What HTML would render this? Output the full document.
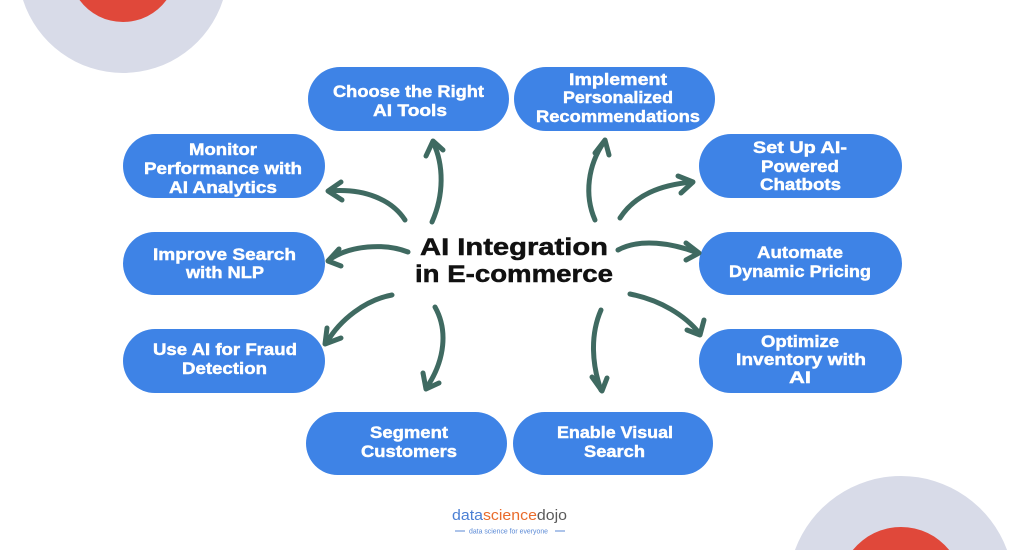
<!DOCTYPE html>
<html><head><meta charset="utf-8"><style>
html,body{margin:0;padding:0;background:#fff;width:1024px;height:550px;overflow:hidden;}
svg{display:block;position:absolute;left:0;top:0;}
.bt{font-family:"Liberation Sans",Arial,sans-serif;font-weight:bold;font-size:16.5px;fill:#fff;stroke:#fff;stroke-width:0.45;text-anchor:middle;}
.tt{font-family:"Liberation Sans",Arial,sans-serif;font-weight:bold;font-size:24.5px;fill:#111;stroke:#111;stroke-width:0.5;text-anchor:middle;}
.ar{fill:none;stroke:#3f6a61;stroke-width:5;stroke-linecap:round;stroke-linejoin:round;}
</style></head><body>
<svg width="1024" height="550" viewBox="0 0 1024 550" xmlns="http://www.w3.org/2000/svg">
<rect width="1024" height="550" fill="#fff"/>
<path d="M23,0 A105,105 0 0 0 223,0 Z" fill="#d8dbe8"/>
<path d="M79.5,0 A54,54 0 0 0 166.5,0 Z" fill="#e0483a"/>
<path d="M794.94,550 A113,113 0 0 1 1007.06,550 Z" fill="#d8dbe8"/>
<path d="M852.8,550 A62,62 0 0 1 949.2,550 Z" fill="#e0483a"/>

<g fill="#3e83e6">
<rect x="308" y="67" width="201" height="64" rx="32"/>
<rect x="514" y="67" width="201" height="64" rx="32"/>
<rect x="123" y="134" width="202" height="64" rx="32"/>
<rect x="123" y="232" width="202" height="63" rx="31.5"/>
<rect x="123" y="329" width="202" height="64" rx="32"/>
<rect x="699" y="134" width="203" height="64" rx="32"/>
<rect x="699" y="232" width="203" height="63" rx="31.5"/>
<rect x="699" y="329" width="203" height="64" rx="32"/>
<rect x="306" y="412" width="201" height="63" rx="31.5"/>
<rect x="513" y="412" width="200" height="63" rx="31.5"/>
</g>

<g class="bt">
<text x="408.5" y="97" textLength="151" lengthAdjust="spacingAndGlyphs">Choose the Right</text>
<text x="410" y="116" textLength="74" lengthAdjust="spacingAndGlyphs">AI Tools</text>
<text x="618" y="85" textLength="98" lengthAdjust="spacingAndGlyphs">Implement</text>
<text x="618" y="103" textLength="110" lengthAdjust="spacingAndGlyphs">Personalized</text>
<text x="618" y="122" textLength="164" lengthAdjust="spacingAndGlyphs">Recommendations</text>
<text x="223" y="155" textLength="68" lengthAdjust="spacingAndGlyphs">Monitor</text>
<text x="223" y="174" textLength="158" lengthAdjust="spacingAndGlyphs">Performance with</text>
<text x="223" y="193" textLength="108" lengthAdjust="spacingAndGlyphs">AI Analytics</text>
<text x="224.5" y="260" textLength="143" lengthAdjust="spacingAndGlyphs">Improve Search</text>
<text x="225" y="278" textLength="78" lengthAdjust="spacingAndGlyphs">with NLP</text>
<text x="225" y="355" textLength="144" lengthAdjust="spacingAndGlyphs">Use AI for Fraud</text>
<text x="224.5" y="374" textLength="85" lengthAdjust="spacingAndGlyphs">Detection</text>
<text x="800" y="153" textLength="94" lengthAdjust="spacingAndGlyphs">Set Up AI-</text>
<text x="800" y="172" textLength="78" lengthAdjust="spacingAndGlyphs">Powered</text>
<text x="800.5" y="190" textLength="81" lengthAdjust="spacingAndGlyphs">Chatbots</text>
<text x="800" y="258" textLength="86" lengthAdjust="spacingAndGlyphs">Automate</text>
<text x="800" y="277" textLength="142" lengthAdjust="spacingAndGlyphs">Dynamic Pricing</text>
<text x="800" y="347" textLength="78" lengthAdjust="spacingAndGlyphs">Optimize</text>
<text x="801" y="365" textLength="130" lengthAdjust="spacingAndGlyphs">Inventory with</text>
<text x="800" y="383" textLength="22" lengthAdjust="spacingAndGlyphs">AI</text>
<text x="409" y="438" textLength="78" lengthAdjust="spacingAndGlyphs">Segment</text>
<text x="409" y="457" textLength="96" lengthAdjust="spacingAndGlyphs">Customers</text>
<text x="615" y="438" textLength="116" lengthAdjust="spacingAndGlyphs">Enable Visual</text>
<text x="614.5" y="457" textLength="61" lengthAdjust="spacingAndGlyphs">Search</text>
</g>

<g class="tt">
<text x="514" y="255" textLength="188" lengthAdjust="spacingAndGlyphs">AI Integration</text>
<text x="514" y="282" textLength="198" lengthAdjust="spacingAndGlyphs">in E-commerce</text>
</g>

<g class="ar">
<path d="M432,222 C444,195 444,165 433,142"/><path d="M426,156 L433,141 L443,150"/>
<path d="M405,220 C392,200 365,188 329,191"/><path d="M341,182 L328,191 L342,200"/>
<path d="M408,252 C385,243 350,245 329,260"/><path d="M339,249 L328,261 L341,266"/>
<path d="M595,220 C584,195 588,165 604,142"/><path d="M595,153 L605,140 L609,155"/>
<path d="M620,218 C635,195 660,185 692,182"/><path d="M678,176 L693,182 L681,193"/>
<path d="M618,250 C640,238 672,243 698,253"/><path d="M686,243 L699,253 L686,260"/>
<path d="M630,294 C660,300 685,315 700,334"/><path d="M704,320 L700,335 L687,330"/>
<path d="M601,310 C590,335 592,365 601,390"/><path d="M592,377 L602,391 L607,378"/>
<path d="M435,307 C448,330 445,360 427,387"/><path d="M423,373 L426,389 L439,383"/>
<path d="M392,295 C365,300 340,320 327,342"/><path d="M327,328 L325,344 L341,338"/>
</g>

<text x="452" y="520" textLength="115" lengthAdjust="spacingAndGlyphs" font-family="Liberation Sans, Arial, sans-serif" font-size="15"><tspan fill="#4a7fd4">data</tspan><tspan fill="#e96b2b">science</tspan><tspan fill="#5a5a5a">dojo</tspan></text>
<line x1="455" y1="531" x2="465" y2="531" stroke="#5b8ad6" stroke-width="1"/>
<line x1="555" y1="531" x2="565" y2="531" stroke="#5b8ad6" stroke-width="1"/>
<text x="469" y="533.5" textLength="79" lengthAdjust="spacingAndGlyphs" font-family="Liberation Sans, Arial, sans-serif" font-size="7" fill="#5b8ad6">data science for everyone</text>
</svg>
</body></html>
